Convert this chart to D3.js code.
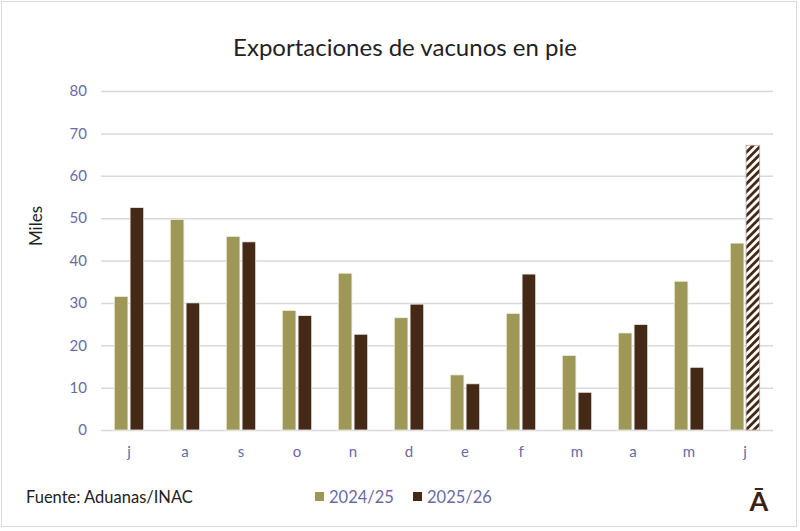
<!DOCTYPE html>
<html>
<head>
<meta charset="utf-8">
<script src="https://cdn.jsdelivr.net/npm/d3@7"></script>
<style>
  body { margin: 0; background: #fff; }
  svg { display: block; }
</style>
</head>
<body>
<div id="chart"></div>
<script>
// meses julio..junio
var months = ['j', 'a', 's', 'o', 'n', 'd', 'e', 'f', 'm', 'a', 'm', 'j'];
var seriesNames = ['2024/25', '2025/26'];
var values2425 = [31.5, 49.7, 45.7, 28.2, 37.0, 26.5, 13.0, 27.5, 17.6, 22.9, 35.1, 44.1];
var values2526 = [52.5, 30.0, 44.4, 27.0, 22.6, 29.7, 10.9, 36.8, 8.9, 24.9, 14.8, 67.2];
var yTicks = [0, 10, 20, 30, 40, 50, 60, 70, 80];

var width = 800;
var height = 531;
var margin = { top: 91, right: 27, bottom: 101, left: 101 };
var colors = ['#9d9856', '#452917'];
var tickColor = '#6a6aa6';
var font = 'Lato, "Open Sans", sans-serif';

var svg = d3.select('#chart')
    .append('svg')
    .attr('width', width)
    .attr('height', height);

var defs = svg.append('defs');
var pattern = defs.append('pattern')
    .attr('id', 'hatch')
    .attr('patternUnits', 'userSpaceOnUse')
    .attr('width', 5.6)
    .attr('height', 5.6)
    .attr('patternTransform', 'rotate(45)');
pattern.append('rect').attr('width', 5.6).attr('height', 5.6).attr('fill', '#fff');
pattern.append('rect').attr('width', 2.8).attr('height', 5.6).attr('fill', colors[1]);

// marco
svg.append('rect')
    .attr('x', 1.5)
    .attr('y', 1.5)
    .attr('width', 795)
    .attr('height', 525)
    .attr('fill', '#fff')
    .attr('stroke', '#d9d9d9')
    .attr('stroke-width', 1);

var x = d3.scaleBand()
    .domain(d3.range(months.length))
    .range([margin.left, width - margin.right]);

var groupWidth = 29.4;
var xs = d3.scaleBand()
    .domain([0, 1])
    .range([0, groupWidth])
    .paddingInner(0.136);

var y = d3.scaleLinear()
    .domain([0, 80])
    .range([height - margin.bottom, margin.top]);

// grid
var yAxis = d3.axisLeft(y)
    .tickValues(yTicks)
    .tickSize(-(width - margin.left - margin.right))
    .tickPadding(14)
    .tickFormat(d3.format('d'));

var gy = svg.append('g')
    .attr('class', 'y-axis')
    .attr('transform', `translate(${margin.left},0)`)
    .call(yAxis);
gy.select('.domain').remove();
gy.selectAll('.tick line')
    .attr('stroke', '#d9d9d9')
    .attr('stroke-width', 1.5);
gy.selectAll('.tick text')
    .attr('fill', tickColor)
    .style('font-size', '15px')
    .style('font-family', font);

var xAxis = d3.axisBottom(x)
    .tickSize(0)
    .tickPadding(16)
    .tickFormat(i => months[i]);

var gx = svg.append('g')
    .attr('class', 'x-axis')
    .attr('transform', `translate(0,${height - margin.bottom})`)
    .call(xAxis);
gx.select('.domain').remove();
gx.selectAll('.tick text')
    .attr('fill', tickColor)
    .style('font-size', '15px')
    .style('font-family', font);

var rows = months.map((m, i) => ({ i: i, v: [values2425[i], values2526[i]] }));
var offset = (x.bandwidth() - groupWidth) / 2;

var groups = svg.append('g')
    .selectAll('g')
    .data(rows)
    .join('g')
    .attr('transform', d => `translate(${x(d.i) + offset},0)`);

groups.selectAll('rect')
    .data(d => d.v.map((v, k) => ({ k: k, v: v, last: d.i === months.length - 1 })))
    .join('rect')
    .attr('x', d => xs(d.k))
    .attr('y', d => y(d.v))
    .attr('width', xs.bandwidth())
    .attr('height', d => y(0) - y(d.v))
    .attr('fill', d => (d.last && d.k === 1) ? 'url(#hatch)' : colors[d.k])
    .attr('stroke', d => (d.last && d.k === 1) ? '#b9a99c' : '#f1ece6')
    .attr('stroke-width', 0.8);

// titulo
svg.append('text')
    .attr('x', 405)
    .attr('y', 56)
    .attr('text-anchor', 'middle')
    .style('fill', '#222')
    .style('font-size', '24px')
    .style('font-family', font)
    .text('Exportaciones de vacunos en pie');

svg.append('text')
    .attr('transform', 'rotate(-90)')
    .attr('x', -226)
    .attr('y', 42)
    .attr('text-anchor', 'middle')
    .style('fill', '#222')
    .style('font-size', '17px')
    .style('font-family', font)
    .text('Miles');

svg.append('text')
    .attr('x', 26)
    .attr('y', 503)
    .style('fill', '#222')
    .style('font-size', '16.5px')
    .style('font-family', font)
    .text('Fuente: Aduanas/INAC');

// leyenda
var legendX = [315, 413];
var legend = svg.append('g')
    .selectAll('g')
    .data(seriesNames)
    .join('g')
    .attr('transform', (d, i) => `translate(${legendX[i]},492)`);
legend.append('rect')
    .attr('width', 9)
    .attr('height', 9)
    .attr('fill', (d, i) => colors[i]);
legend.append('text')
    .attr('x', 14)
    .attr('y', 10.5)
    .style('fill', tickColor)
    .style('font-size', '16.5px')
    .style('font-family', font)
    .text(d => d);

svg.append('text')
    .attr('x', 759)
    .attr('y', 511)
    .attr('text-anchor', 'middle')
    .style('fill', '#3b2314')
    .style('font-size', '27px')
    .style('font-weight', 'bold')
    .style('font-family', font)
    .text('Ā');
</script>
</body>
</html>
